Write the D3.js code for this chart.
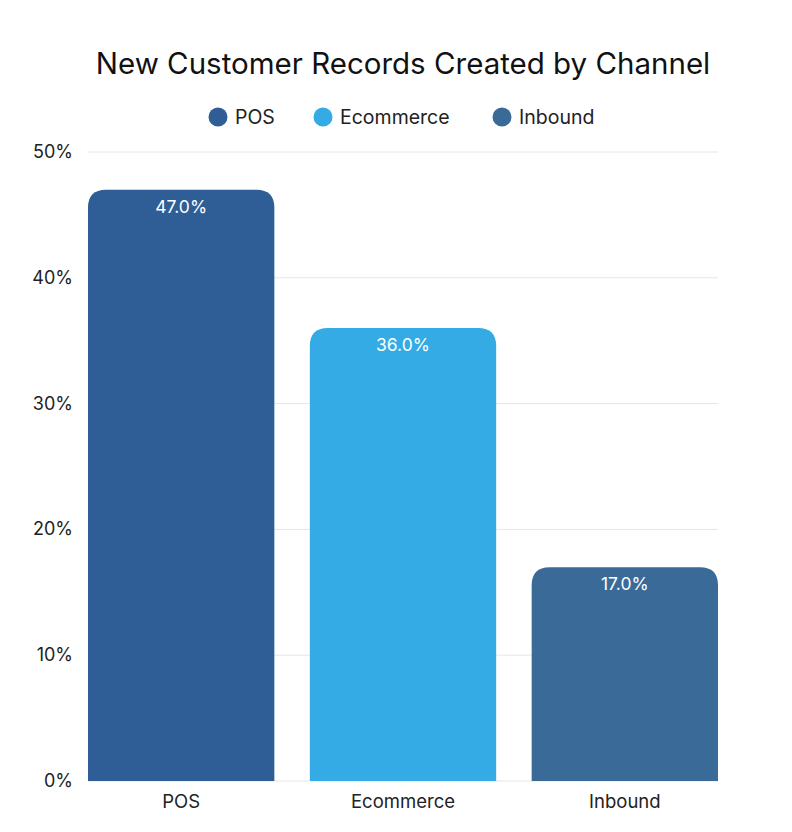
<!DOCTYPE html>
<html lang="en">
<head>
    <meta charset="UTF-8" />
    <title>New Customer Records Created by Channel</title>
    <script src="https://d3js.org/d3.v7.min.js"></script>
    <style>
        body { margin: 0; background: #fff; font-family: Inter, "Noto Sans", sans-serif; }
    </style>
</head>
<body>
    <div id="chart"></div>
    <script>
        // Data
        var channels = ["POS", "Ecommerce", "Inbound"];
        var shares = [47.0, 36.0, 17.0];
        var colors = ["#2e5e95", "#34abe4", "#3a6a98"];
        var yTicks = [0, 10, 20, 30, 40, 50];

        var w = 792, h = 832;
        // plot area (note: "top" is reserved on window, so use prefixed names)
        var plotLeft = 88, plotRight = 718, plotTop = 152, plotBottom = 781;
        var radius = 18;

        var svg = d3.select("#chart").append("svg")
            .attr("width", w)
            .attr("height", h);

        var x = d3.scaleBand()
            .domain(channels)
            .range([plotLeft, plotRight])
            .paddingInner(0.16)
            .paddingOuter(0);

        var y = d3.scaleLinear()
            .domain([0, 50])
            .range([plotBottom, plotTop]);

        // Title
        svg.append("text")
            .attr("x", 403)
            .attr("y", 74)
            .attr("text-anchor", "middle")
            .attr("fill", "#111")
            .style("font-size", "29.5px")
            .text("New Customer Records Created by Channel");

        // Legend
        var legendX = [218, 323, 502];
        var legend = svg.selectAll(".legend")
            .data(channels)
            .enter()
            .append("g")
            .attr("transform", function(d, i) { return "translate(" + legendX[i] + ",117)"; });
        legend.append("circle")
            .attr("r", 9.5)
            .attr("fill", function(d, i) { return colors[i]; });
        legend.append("text")
            .attr("x", 17)
            .attr("y", 7)
            .attr("fill", "#222")
            .style("font-size", "19.5px")
            .text(function(d) { return d; });

        // Gridlines
        svg.selectAll(".grid")
            .data(yTicks)
            .enter()
            .append("line")
            .attr("x1", plotLeft)
            .attr("x2", plotRight)
            .attr("y1", function(d) { return y(d); })
            .attr("y2", function(d) { return y(d); })
            .attr("stroke", "#e6e6e6")
            .attr("stroke-width", 1);

        // Y axis labels
        svg.selectAll(".ytick")
            .data(yTicks)
            .enter()
            .append("text")
            .attr("x", 73)
            .attr("y", function(d) { return y(d) + 6; })
            .attr("text-anchor", "end")
            .attr("fill", "#222")
            .style("font-size", "18px")
            .text(function(d) { return d + "%"; });

        // Bars with rounded top corners
        function barPath(d, i) {
            var x0 = x(channels[i]), bw = x.bandwidth();
            var y0 = y(d), y1 = y(0);
            var r = Math.min(radius, (y1 - y0));
            return "M" + x0 + "," + y1 +
                "V" + (y0 + r) +
                "Q" + x0 + "," + y0 + " " + (x0 + r) + "," + y0 +
                "H" + (x0 + bw - r) +
                "Q" + (x0 + bw) + "," + y0 + " " + (x0 + bw) + "," + (y0 + r) +
                "V" + y1 + "Z";
        }

        svg.selectAll(".bar")
            .data(shares)
            .enter()
            .append("path")
            .attr("d", barPath)
            .attr("fill", function(d, i) { return colors[i]; });

        // Value labels
        svg.selectAll(".value")
            .data(shares)
            .enter()
            .append("text")
            .attr("x", function(d, i) { return x(channels[i]) + x.bandwidth() / 2; })
            .attr("y", function(d) { return y(d) + 23; })
            .attr("text-anchor", "middle")
            .attr("fill", "#fff")
            .style("font-size", "17.5px")
            .text(function(d) { return d.toFixed(1) + "%"; });

        // X labels
        svg.selectAll(".xlabel")
            .data(channels)
            .enter()
            .append("text")
            .attr("x", function(d) { return x(d) + x.bandwidth() / 2; })
            .attr("y", 808)
            .attr("text-anchor", "middle")
            .attr("fill", "#222")
            .style("font-size", "18.5px")
            .text(function(d) { return d; });
    </script>
</body>
</html>
